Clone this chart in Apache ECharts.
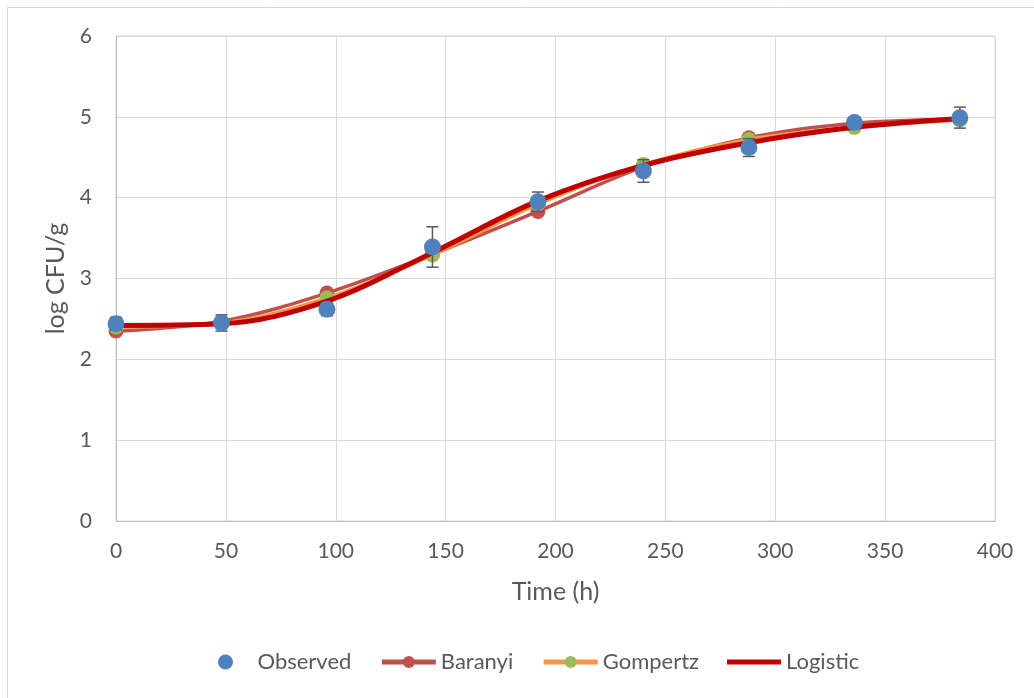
<!DOCTYPE html>
<html>
<head>
<meta charset="utf-8">
<script src="https://cdn.jsdelivr.net/npm/echarts@6/dist/echarts.min.js"></script>
<style>
html,body{margin:0;padding:0;background:#fff;}
#chart{width:1034px;height:698px;}
</style>
</head>
<body>
<div id="chart"></div>
<script>
var times = [0, 48, 96, 144, 192, 240, 288, 336, 384];
var observed = [2.44, 2.45, 2.62, 3.39, 3.95, 4.33, 4.62, 4.93, 4.99];
var observedErr = [0.08, 0.10, 0.08, 0.25, 0.12, 0.14, 0.11, 0.05, 0.13];
var baranyi = [2.35, 2.47, 2.82, 3.30, 3.83, 4.38, 4.74, 4.92, 4.97];
var gompertz = [2.40, 2.45, 2.76, 3.29, 3.92, 4.41, 4.72, 4.87, 4.96];
var logistic = [2.42, 2.44, 2.72, 3.32, 3.96, 4.40, 4.68, 4.87, 4.98];
var xTicks = [0, 50, 100, 150, 200, 250, 300, 350, 400];
var yTicks = [0, 1, 2, 3, 4, 5, 6];

function pairs(xs, ys){ return xs.map(function(x,i){return [x, ys[i]];}); }
var errData = times.map(function(t,i){ return [t, observed[i]-observedErr[i], observed[i]+observedErr[i]]; });

var font = 'Lato, "Open Sans", sans-serif';
var chart = echarts.init(document.getElementById('chart'));
chart.setOption({
  animation: false,
  backgroundColor: '#fff',
  graphic: [{
    type: 'rect', shape: {x: 7.5, y: 7.5, width: 1040, height: 710},
    style: {fill: 'none', stroke: '#d9d9d9', lineWidth: 1}, z: -10
  }],
  grid: {left: 116, right: 39, top: 36, bottom: 177, show: true, borderColor: '#d9d9d9', borderWidth: 1},
  xAxis: {
    type: 'value', min: xTicks[0], max: xTicks[xTicks.length-1], interval: 50,
    name: 'Time (h)', nameLocation: 'middle', nameGap: 58,
    nameTextStyle: {fontFamily: font, fontSize: 25, color: '#595959'},
    axisLine: {show: true, lineStyle: {color: '#bfbfbf', width: 1}},
    axisTick: {show: false},
    axisLabel: {fontFamily: font, fontSize: 21, color: '#595959', margin: 20},
    splitLine: {show: true, lineStyle: {color: '#d9d9d9', width: 1}}
  },
  yAxis: {
    type: 'value', min: yTicks[0], max: yTicks[yTicks.length-1], interval: 1,
    name: 'log CFU/g', nameLocation: 'middle', nameGap: 47,
    nameTextStyle: {fontFamily: font, fontSize: 25, color: '#595959'},
    axisLine: {show: true, lineStyle: {color: '#bfbfbf', width: 1}},
    axisTick: {show: false},
    axisLabel: {fontFamily: font, fontSize: 21, color: '#595959', margin: 24},
    splitLine: {show: true, lineStyle: {color: '#d9d9d9', width: 1}}
  },
  legend: {
    top: 646, left: 213, itemWidth: 54, itemHeight: 15, itemGap: 28,
    textStyle: {fontFamily: font, fontSize: 22, color: '#595959'},
    lineStyle: {width: 5},
    data: [
      {name: 'Observed', icon: 'circle'},
      {name: 'Baranyi'},
      {name: 'Gompertz'},
      {name: 'Logistic', icon: 'path://M0,0L54,0L54,5L0,5Z'}
    ]
  },
  series: [
    {
      name: 'Observed', type: 'scatter', data: pairs(times, observed),
      symbol: 'circle', symbolSize: 17, itemStyle: {color: '#4f81bd', opacity: 1}, z: 10
    },
    {
      name: 'Baranyi', type: 'line', smooth: 0.35, data: pairs(times, baranyi),
      symbol: 'circle', symbolSize: 15, showSymbol: true,
      lineStyle: {color: '#c0504d', width: 3.5}, itemStyle: {color: '#c0504d'}, z: 3
    },
    {
      name: 'Gompertz', type: 'line', smooth: 0.35, data: pairs(times, gompertz),
      symbol: 'circle', symbolSize: 15, showSymbol: true,
      lineStyle: {color: '#f79646', width: 3.5}, itemStyle: {color: '#9bbb59'}, z: 4
    },
    {
      name: 'Logistic', type: 'line', smooth: 0.35, data: pairs(times, logistic),
      symbol: 'none', lineStyle: {color: '#c00000', width: 5}, itemStyle: {color: '#c00000'}, z: 5
    },
    {
      name: 'err', type: 'custom', data: errData, z: 9, silent: true,
      renderItem: function(params, api){
        var x = api.value(0);
        var lo = api.coord([x, api.value(1)]);
        var hi = api.coord([x, api.value(2)]);
        var w = 6;
        var st = {stroke: '#595959', lineWidth: 1.5, fill: 'none'};
        return {type: 'group', children: [
          {type: 'line', shape: {x1: lo[0], y1: lo[1], x2: hi[0], y2: hi[1]}, style: st},
          {type: 'line', shape: {x1: lo[0]-w, y1: lo[1], x2: lo[0]+w, y2: lo[1]}, style: st},
          {type: 'line', shape: {x1: hi[0]-w, y1: hi[1], x2: hi[0]+w, y2: hi[1]}, style: st}
        ]};
      }
    }
  ]
});
</script>
</body>
</html>
